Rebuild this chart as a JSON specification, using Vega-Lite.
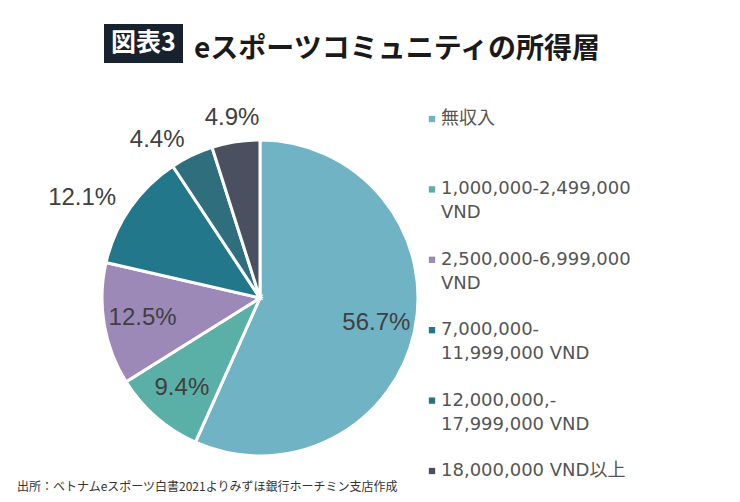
{
  "$schema": "https://vega.github.io/schema/vega-lite/v6.json",
  "autosize": {"type": "none"},
  "width": 316,
  "height": 316,
  "padding": {"left": 102, "top": 140, "right": 322, "bottom": 46},
  "background": "white",
  "view": {"stroke": null},
  "config": {"style": {"guide-label": {"lineHeight": 24, "dy": 5}}},
  "title": {
    "text": "eスポーツコミュニティの所得層",
    "anchor": "start",
    "frame": "group",
    "dx": 92,
    "offset": -40,
    "font": "Noto Sans CJK JP",
    "fontSize": 28,
    "fontWeight": "bold",
    "color": "#1a1a1a"
  },
  "data": {
    "values": [
      {"idx": 1, "cat": "無収入", "share": 0.567},
      {"idx": 2, "cat": "1,000,000-2,499,000\nVND", "share": 0.094},
      {"idx": 3, "cat": "2,500,000-6,999,000\nVND", "share": 0.125},
      {"idx": 4, "cat": "7,000,000-\n11,999,000 VND", "share": 0.121},
      {"idx": 5, "cat": "12,000,000,-\n17,999,000 VND", "share": 0.044},
      {"idx": 6, "cat": "18,000,000 VND以上", "share": 0.049}
    ]
  },
  "encoding": {
    "theta": {"field": "share", "type": "quantitative", "stack": true},
    "order": {"field": "idx", "type": "quantitative"}
  },
  "layer": [
    {
      "mark": {"type": "arc", "stroke": "white", "strokeWidth": 3, "radius": 158},
      "encoding": {
        "color": {
          "field": "cat",
          "type": "nominal",
          "scale": {
            "domain": ["無収入", "1,000,000-2,499,000\nVND", "2,500,000-6,999,000\nVND", "7,000,000-\n11,999,000 VND", "12,000,000,-\n17,999,000 VND", "18,000,000 VND以上"],
            "range": ["#6fb3c4", "#5aafa6", "#9c89b8", "#22778a", "#2f6f7d", "#4a5060"]
          },
          "legend": {
            "title": null,
            "orient": "none",
            "legendX": 321,
            "legendY": -30,
            "symbolType": "square",
            "symbolSize": 40,
            "symbolStrokeWidth": 0,
            "labelFont": "DejaVu Sans, Noto Sans CJK JP",
            "labelFontSize": 18,
            "labelColor": "#555555",
            "labelOffset": 0,
            "labelLimit": 300,
            "labelExpr": "split(datum.label, '\\n')",
            "gridAlign": "all",
            "rowPadding": 28.4,
            "labelBaseline": "alphabetic"
          }
        }
      }
    },
    {
      "mark": {"type": "text", "radius": 119, "font": "Liberation Sans", "fontSize": 24, "color": "#404040"},
      "encoding": {
        "text": {"condition": {"test": "datum.idx <= 3", "field": "share", "type": "quantitative", "format": ".1%"}, "value": ""},
        "opacity": {
          "field": "idx",
          "type": "ordinal",
          "scale": {"range": [1, 1]},
          "legend": {
            "title": "図表3",
            "values": [],
            "orient": "none",
            "legendX": 2,
            "legendY": -116,
            "fillColor": "#18212e",
            "padding": 7,
            "titleColor": "white",
            "titleFont": "Noto Sans CJK JP",
            "titleFontSize": 25,
            "titleFontWeight": "bold",
            "titlePadding": 0
          }
        }
      }
    },
    {
      "mark": {"type": "text", "radius": 175, "align": "right", "font": "Liberation Sans", "fontSize": 24, "color": "#404040"},
      "encoding": {
        "text": {"condition": {"test": "datum.idx == 4 || datum.idx == 5", "field": "share", "type": "quantitative", "format": ".1%"}, "value": ""}
      }
    },
    {
      "mark": {"type": "text", "radius": 182, "font": "Liberation Sans", "color": "#404040"},
      "encoding": {
        "text": {"condition": {"test": "datum.idx == 6", "field": "share", "type": "quantitative", "format": ".1%"}, "value": ""},
        "size": {
          "field": "share",
          "type": "quantitative",
          "scale": {"range": [24, 24]},
          "legend": {
            "title": "出所：ベトナムeスポーツ白書2021よりみずほ銀行ホーチミン支店作成",
            "values": [],
            "orient": "none",
            "legendX": -85,
            "legendY": 342,
            "titleFont": "Noto Sans CJK JP",
            "titleFontSize": 12,
            "titleFontWeight": "normal",
            "titleColor": "#333333",
            "titlePadding": 0,
            "titleLimit": 600
          }
        }
      }
    }
  ]
}
